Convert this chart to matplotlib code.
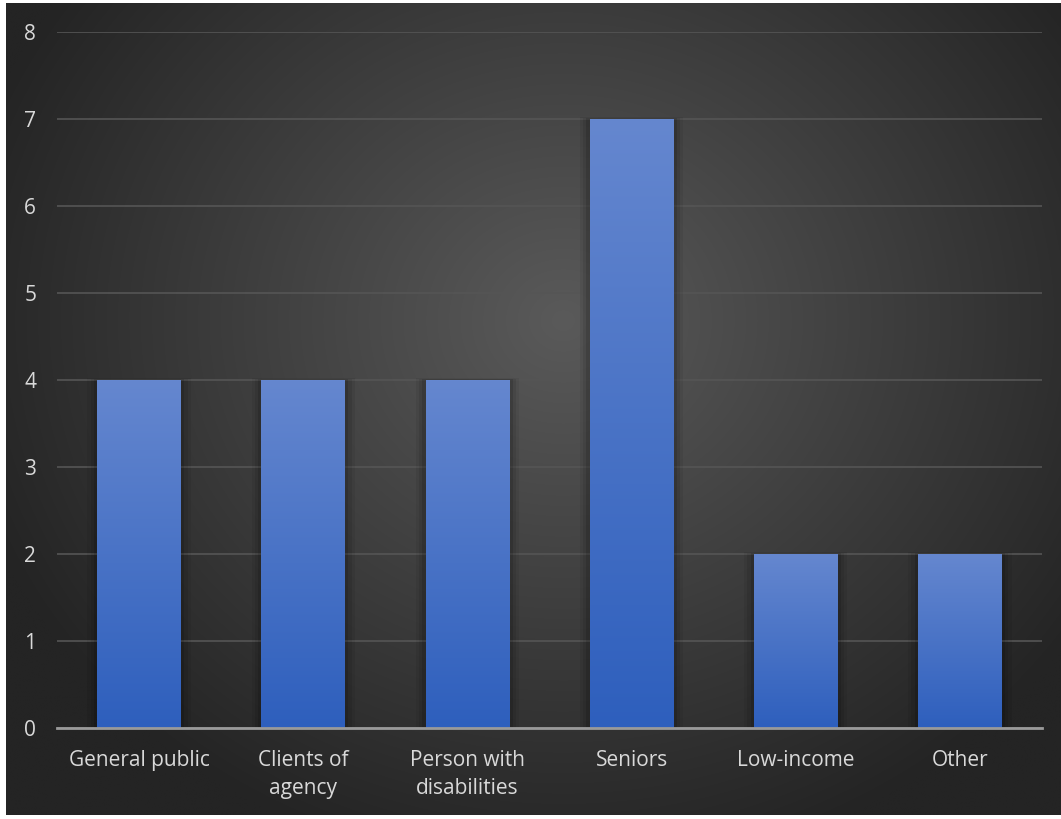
import numpy as np
import matplotlib.pyplot as plt
from matplotlib.patches import Rectangle

categories = ["General public", "Clients of\nagency", "Person with\ndisabilities",
              "Seniors", "Low-income", "Other"]
counts = [4, 4, 4, 7, 2, 2]
yticks = list(range(0, 9))

plt.rcParams['font.family'] = ['Open Sans', 'DejaVu Sans']

W, H = 1061, 819
fig = plt.figure(figsize=(W / 100, H / 100), dpi=100)
fig.patch.set_facecolor('white')

# dark radial background (leaves a thin white margin at left/top/bottom)
bg = fig.add_axes([6 / W, 4 / H, (W - 6) / W, (H - 7) / H])
bg.set_axis_off()
yy, xx = np.mgrid[0:H, 0:W]
r = np.hypot((xx - 560) / 620, (yy - 320) / 560)
r = np.clip(r, 0, 1)
c_in = np.array([0x5a, 0x5a, 0x5a]) / 255
c_out = np.array([0x24, 0x24, 0x24]) / 255
img = c_in[None, None, :] * (1 - r[..., None]) + c_out[None, None, :] * r[..., None]
bg.imshow(img, aspect='auto', extent=[0, 1, 0, 1])
bg.set_xlim(0, 1)
bg.set_ylim(0, 1)

ax = fig.add_axes([57 / W, (H - 728) / H, (1042 - 57) / W, (728 - 32) / H])
ax.patch.set_alpha(0)
x = np.arange(len(categories))

ax.set_yticks(yticks)
ax.grid(axis='y', color='#555555', linewidth=1.2, zorder=0)
ax.set_axisbelow(True)
for s in ['top', 'right', 'left']:
    ax.spines[s].set_visible(False)
ax.spines['bottom'].set_color('#9a9a9a')
ax.spines['bottom'].set_linewidth(2)
ax.spines['bottom'].set_zorder(5)
ax.tick_params(axis='both', length=0, colors='#d9d9d9', labelsize=15)
ax.tick_params(axis='y', pad=15)
ax.tick_params(axis='x', pad=16)
ax.set_xticks(x)
ax.set_xticklabels(categories, linespacing=1.4, va='top')

bar_w = 0.51
grad = np.linspace(0, 1, 256)[:, None]
top_c = np.array([0x65, 0x87, 0xcf]) / 255
bot_c = np.array([0x2e, 0x5f, 0xbd]) / 255
bars = ax.bar(x, counts, width=bar_w, color='none', zorder=3)
for b, v in zip(bars, counts):
    x0 = b.get_x()
    # soft shadow around each bar
    for k, a in zip([0.06, 0.04, 0.02], [0.06, 0.08, 0.12]):
        ax.add_patch(Rectangle((x0 - k, 0), bar_w + 2 * k, v + k * 0.35,
                               color='black', alpha=a, lw=0, zorder=2))
    g = top_c[None, None, :] * (1 - grad[..., None]) + bot_c[None, None, :] * grad[..., None]
    im = ax.imshow(g, aspect='auto', extent=[x0, x0 + bar_w, 0, v], zorder=3)
    im.set_clip_path(b)
ax.set_xlim(-0.5, len(categories) - 0.5)
ax.set_ylim(0, 8)

plt.savefig('out.png', dpi=100)
